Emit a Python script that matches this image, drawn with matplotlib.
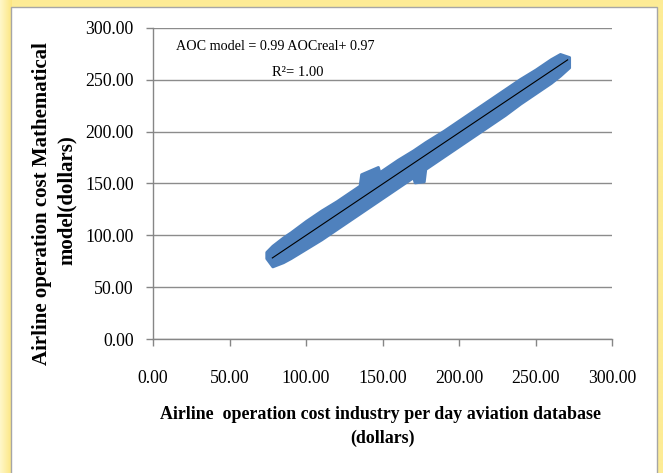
import numpy as np
import matplotlib
matplotlib.use("Agg")
import matplotlib.pyplot as plt
from matplotlib.patches import Rectangle

# ---------------- data ----------------
band_x = [74, 78, 85, 90, 100, 110, 120, 130, 135, 136, 147, 148, 160, 170, 171,
          177, 178, 190, 200, 210, 220, 230, 240, 250, 260, 266, 272]
band_upper = [84, 90, 98, 103, 114, 124, 133, 143, 148, 159, 166, 161, 173, 182, 183,
              189, 190, 201, 211, 221, 231, 241, 251, 260, 270, 275, 272]
band_lower = [78, 70, 74, 78, 87, 96, 106, 116, 121, 122, 133, 134, 146, 156, 151,
              152, 164, 176, 186, 196, 206, 216, 227, 237, 247, 254, 262]
trend_slope = 0.99
trend_intercept = 0.97
trend_x = [78, 271]
x_ticks = [0, 50, 100, 150, 200, 250, 300]
y_ticks = [0, 50, 100, 150, 200, 250, 300]
equation_text = "AOC model = 0.99 AOCreal+ 0.97"
r2_text = "R\u00b2= 1.00"
x_label_1 = "Airline  operation cost industry per day aviation database"
x_label_2 = "(dollars)"
y_label_1 = "Airline operation cost Mathematical"
y_label_2 = "model(dollars)"

W, H = 663, 473
fig = plt.figure(figsize=(W / 100, H / 100), dpi=100)

# background gradient (yellow frame)
bg = fig.add_axes([0, 0, 1, 1], zorder=-5)
bg.set_axis_off()
img = np.zeros((H, W, 3))
base = np.array([253, 236, 150]) / 255.0
img[:, :] = base
left_light = np.array([255, 247, 200]) / 255.0
left_dark = np.array([252, 230, 130]) / 255.0
for i in range(12):
    t = i / 11
    img[:, i] = left_light * (1 - t) + left_dark * t
bg.imshow(img, aspect="auto", extent=[0, W, H, 0])
bg.set_xlim(0, W)
bg.set_ylim(H, 0)
bg.add_patch(Rectangle((11, 7), 646, 480, facecolor="white", edgecolor="#A6A6A6",
                       linewidth=1.0))

# main axes
x0, x1 = 153, 612
y0, y1 = 339, 28
ax = fig.add_axes([x0 / W, (H - y0) / H, (x1 - x0) / W, (y0 - y1) / H])
ax.set_facecolor("none")

serif = ["Liberation Serif", "DejaVu Serif"]

ax.fill_between(band_x, band_lower, band_upper, color="#4F81BD", linewidth=2.0,
                edgecolor="#4F81BD", joinstyle="round", zorder=3)
tx = np.array(trend_x, dtype=float)
ax.plot(tx, trend_slope * tx + trend_intercept, color="black", linewidth=0.8, zorder=4)

ax.set_xlim(0, 300)
ax.set_ylim(0, 300)
ax.set_xticks(x_ticks)
ax.set_yticks(y_ticks)
ax.set_xticklabels([f"{v:.2f}" for v in x_ticks], fontfamily=serif, fontsize=12.8)
ax.set_yticklabels([f"{v:.2f}" for v in y_ticks], fontfamily=serif, fontsize=12.8)
ax.yaxis.grid(True, color="#8C8C8C", linewidth=1.0)
ax.set_axisbelow(True)
for s in ["top", "right"]:
    ax.spines[s].set_visible(False)
for s in ["left", "bottom"]:
    ax.spines[s].set_color("#868686")
    ax.spines[s].set_linewidth(1.0)
ax.tick_params(axis="both", direction="out", length=5, color="#868686", width=1.0)
ax.tick_params(axis="x", pad=17)
ax.tick_params(axis="y", pad=9)

# annotations
fig.text(275 / W, 1 - 47 / H, equation_text, ha="center", va="center",
         fontfamily=serif, fontsize=10.2)
fig.text(298 / W, 1 - 72 / H, r2_text, ha="center", va="center",
         fontfamily=serif, fontsize=10.5)

fig.text(380 / W, 1 - 414 / H, x_label_1, ha="center", va="center",
         fontfamily=serif, fontsize=12.9, fontweight="bold")
fig.text(383 / W, 1 - 438 / H, x_label_2, ha="center", va="center",
         fontfamily=serif, fontsize=12.9, fontweight="bold")
fig.text(42 / W, 1 - 204 / H, y_label_1, ha="center", va="center", rotation=90,
         fontfamily=serif, fontsize=15, fontweight="bold")
fig.text(67 / W, 1 - 200 / H, y_label_2, ha="center", va="center", rotation=90,
         fontfamily=serif, fontsize=15, fontweight="bold")

fig.savefig("out.png", dpi=100)
